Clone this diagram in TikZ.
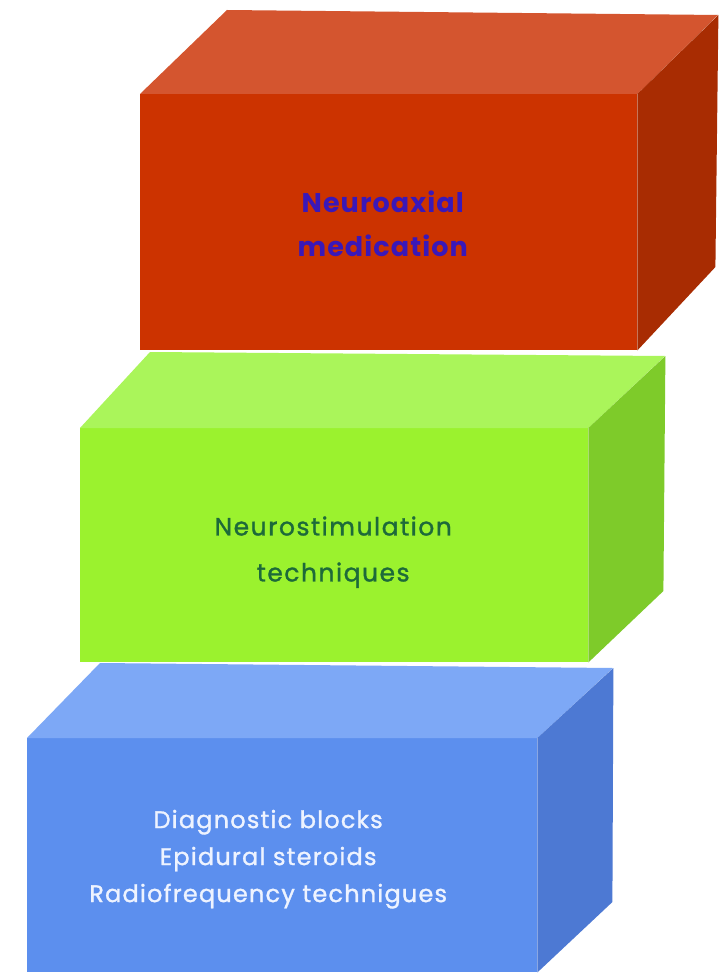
\documentclass[tikz,border=0pt]{standalone}
\usepackage{fontspec}
\setmainfont{Poppins}
\newfontfamily\redfam[LetterSpace=4]{Poppins}
\newfontfamily\greenfam[LetterSpace=6,FakeBold=1.2]{Poppins}
\newfontfamily\bluefam[LetterSpace=5,FakeBold=1.2]{Poppins}
\begin{document}
\begin{tikzpicture}[x=1pt,y=-1pt,
  face/.style={draw=none, inner sep=0pt, anchor=north west},
  label/.style={inner sep=0pt, align=center},
  redtxt/.style={label, text=txtred, font=\redfam\fontsize{27}{44}\selectfont\bfseries},
  greentxt/.style={label, text=txtgreen, font=\greenfam\fontsize{25}{46}\selectfont},
  bluetxt/.style={label, text=txtblue, font=\bluefam\fontsize{24}{37}\selectfont}]
\definecolor{redfront}{HTML}{CC3300}
\definecolor{redtop}{HTML}{D4552F}
\definecolor{redside}{HTML}{A82C02}
\definecolor{greenfront}{HTML}{9BF22E}
\definecolor{greentop}{HTML}{AAF55A}
\definecolor{greenside}{HTML}{7ECB2A}
\definecolor{bluefront}{HTML}{5C8FEE}
\definecolor{bluetop}{HTML}{7DA8F6}
\definecolor{blueside}{HTML}{4D79D3}
\definecolor{txtred}{HTML}{3A18B8}
\definecolor{txtgreen}{HTML}{1D6A3A}
\definecolor{txtblue}{HTML}{EEF3FF}
\useasboundingbox[fill=white] (0,0) rectangle (722,976);

% Red box
\node[face, fill=redfront, minimum width=497pt, minimum height=256pt] (redf) at (140,94) {};
\fill[redtop] (redf.north west) -- ++(87,-84) -- ++(491,5) -- (redf.north east) -- cycle;
\fill[redside] (redf.north east) -- ++(81,-79) -- ++(-3,252) -- (redf.south east) -- cycle;
\node[redtxt] (redt) at ([xshift=-6pt,yshift=-2pt]redf.center) {Neuroaxial\\medication};

% Green box
\node[face, fill=greenfront, minimum width=508pt, minimum height=234pt] (greenf) at (80,428) {};
\fill[greentop] (greenf.north west) -- ++(70,-76) -- ++(515,4) -- (greenf.north east) -- cycle;
\fill[greenside] (greenf.north east) -- ++(77,-72) -- ++(-2,235) -- (greenf.south east) -- cycle;
\node[greentxt] (greent) at ([xshift=-1pt,yshift=-7pt]greenf.center) {Neurostimulation\\techniques};

% Blue box
\node[face, fill=bluefront, minimum width=510pt, minimum height=234pt] (bluef) at (27,738) {};
\fill[bluetop] (bluef.north west) -- ++(73,-75) -- ++(513,5) -- (bluef.north east) -- cycle;
\fill[blueside] (bluef.north east) -- ++(76,-70) -- ++(-1,234) -- (bluef.south east) -- cycle;
\node[bluetxt] (bluet) at ([xshift=-14pt,yshift=-4pt]bluef.center) {Diagnostic blocks\\Epidural steroids\\Radiofrequency technigues};
\end{tikzpicture}
\end{document}
